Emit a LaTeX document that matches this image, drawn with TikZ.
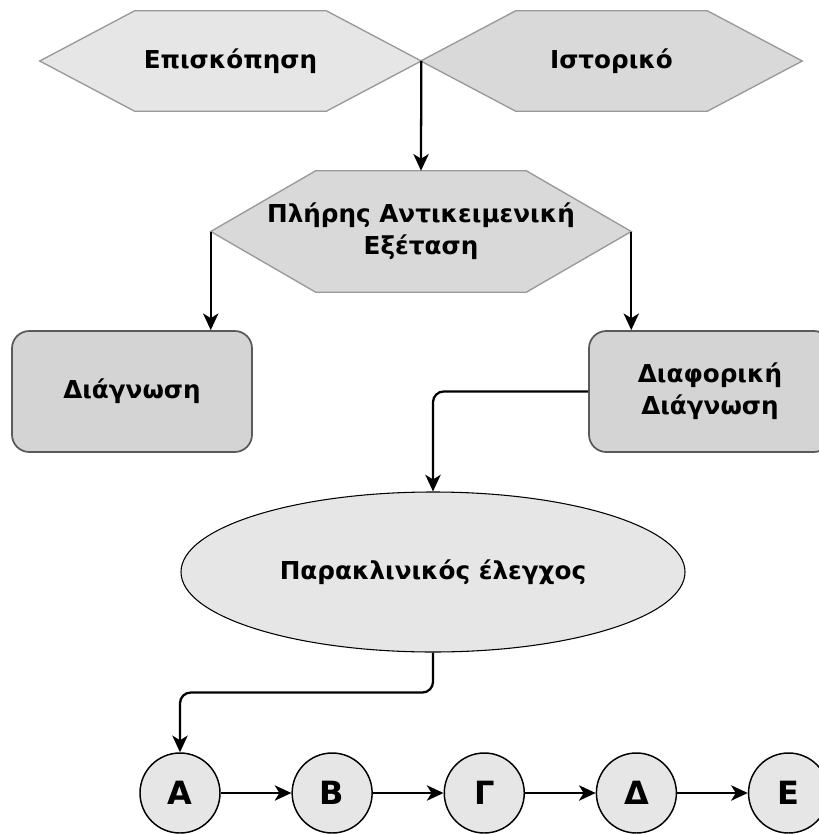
\documentclass[tikz,border=0pt]{standalone}
\usepackage{fontspec}
\setmainfont{DejaVu Sans}
\usetikzlibrary{shapes.geometric,arrows.meta,positioning,backgrounds}
\definecolor{hexlight}{HTML}{E6E6E6}
\definecolor{hexdark}{HTML}{D9D9D9}
\definecolor{boxfill}{HTML}{D4D4D4}
\definecolor{hexedge}{HTML}{999999}
\definecolor{boxedge}{HTML}{5A5A5A}
\tikzset{
	hexnode/.style={rectangle, inner sep=0pt, align=center,
		font=\bfseries\fontsize{18.5}{24}\selectfont},
	hexline/.style={draw=hexedge, line width=1pt},
	diagbox/.style={rectangle, rounded corners=13pt, draw=boxedge, line width=1.3pt,
		fill=boxfill, align=center, minimum width=180pt, minimum height=90.75pt,
		font=\bfseries\fontsize{18.5}{24}\selectfont},
	testnode/.style={ellipse, draw=black, line width=0.8pt, fill=hexlight, inner sep=0pt,
		minimum width=378pt, minimum height=120pt, font=\bfseries\fontsize{18.5}{24}\selectfont},
	stagenode/.style={circle, draw=black, line width=1.1pt, fill=hexlight, inner sep=0pt,
		minimum size=60pt, font=\bfseries\fontsize{24}{28}\selectfont},
	flowline/.style={-{Stealth[length=12.5pt, width=11.5pt, inset=3.5pt]}, line width=1.7pt}
}
\begin{document}
\begin{tikzpicture}[x=0.75pt, y=-0.75pt]
	\useasboundingbox (0,0) rectangle (818,834);
	% top row
	\node[hexnode, minimum width=285.75pt, minimum height=75pt] (epi) at (230.5,61) {Επισκόπηση};
	\node[hexnode, minimum width=285.75pt, minimum height=75pt] (ist) at (611.5,61) {Ιστορικό};
	\node[hexnode, minimum width=315pt, minimum height=90.75pt] (exam) at (421,231.5) {Πλήρης Αντικειμενική\\Εξέταση};
	\begin{scope}[on background layer]
		\foreach \n/\d/\c in {epi/71.25pt/hexlight, ist/71.25pt/hexdark, exam/78.75pt/hexdark}
			\filldraw[hexline, fill=\c] (\n.west) -- ([xshift=\d]\n.north west) -- ([xshift=-\d]\n.north east)
				-- (\n.east) -- ([xshift=-\d]\n.south east) -- ([xshift=\d]\n.south west) -- cycle;
	\end{scope}
	% results
	\node[diagbox] (diag) at (132,391.5) {Διάγνωση};
	\node[diagbox, minimum width=181.5pt] (ddiag) at (710,391.5) {Διαφορική\\Διάγνωση};
	\node[testnode] (para) at (433,572) {Παρακλινικός έλεγχος};
	% stages
	\node[stagenode] (sa) at (180,793) {Α};
	\node[stagenode, right=53pt of sa] (sb) {Β};
	\node[stagenode, right=53pt of sb] (sc) {Γ};
	\node[stagenode, right=53pt of sc] (sd) {Δ};
	\node[stagenode, right=53pt of sd] (se) {Ε};
	\draw[flowline] (epi.east) -- (exam.north);
	\draw[flowline] (exam.west) -- (exam.west |- diag.north);
	\draw[flowline] (exam.east) -- (exam.east |- ddiag.north);
	\draw[flowline, rounded corners=8pt] (ddiag.west) -| (para.north);
	\draw[flowline, rounded corners=8pt] (para.south) -- ++(0,40) -| (sa.north);
	\foreach \a/\b in {sa/sb, sb/sc, sc/sd, sd/se}
		\draw[flowline] (\a) -- (\b);
\end{tikzpicture}
\end{document}
